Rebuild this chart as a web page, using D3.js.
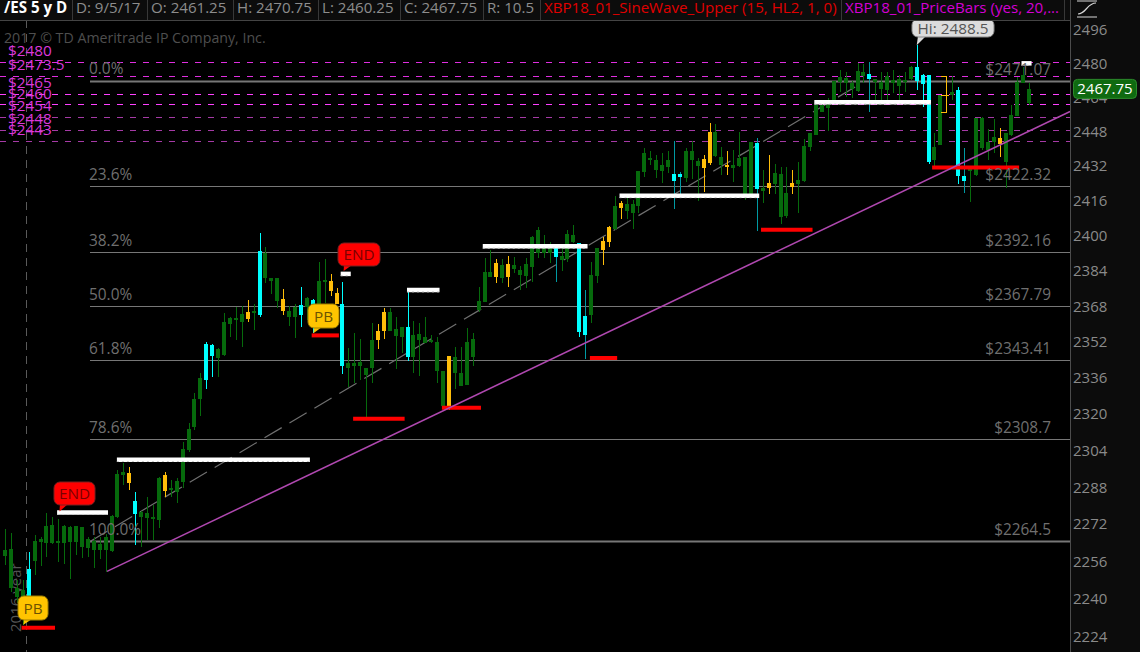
<!DOCTYPE html>
<html><head><meta charset="utf-8">
<script src="https://cdn.jsdelivr.net/npm/d3@7/dist/d3.min.js"></script>
<style>
html,body{margin:0;padding:0;background:#000;overflow:hidden}
svg{display:block;font-family:"Open Sans",sans-serif}
</style></head><body><svg id="c" width="1140" height="652"></svg>
<script>
const closes=[2261,2261.5,2244.7,2243.9,2252.9,2264.9,2265.8,2271.3,2271.8,2264.9,
2271.3,2270.9,2271.3,2270.9,2265.8,2264.9,2263.6,2266.6,2275.6,2293.9,
2294.8,2294.3,2282.1,2277.4,2276.9,2275.2,2292.1,2293.5,2287.8,2290.8,
2304.8,2313.6,2326.7,2336.1,2351.3,2350.9,2349.1,2361.2,2363,2363,
2364.7,2365.6,2366.1,2393.3,2392.4,2381,2381,2371.5,2366.1,2367.9,
2368.8,2371.9,2371,2379.6,2380.1,2379.6,2374.2,2369.2,2342.8,2342.8,
2343.3,2340.6,2353.1,2357.1,2365.6,2365.6,2358,2358.9,2358.9,2355.4,
2355.8,2354.5,2353.1,2352.2,2339.3,2346,2345.5,2338.4,2352.2,2353.6,
2370.5,2383.7,2383.7,2387.8,2386.9,2387.4,2386.9,2384.6,2387.4,2399.6,
2402.8,2394.6,2394.6,2395.1,2391,2401,2400.5,2396.9,2363.9,2382.4,
2394.6,2397.8,2404.2,2413.7,2415,2414.6,2414.6,2429.9,2438.2,2435.9,
2435,2432.6,2435,2428.5,2428.5,2439.1,2439.1,2434.5,2435.4,2448,
2448,2436.4,2432.6,2432.6,2435.9,2436.4,2443.3,2442.9,2422,2424.3,
2428.9,2428.5,2419.6,2424.3,2425.7,2441.5,2447.5,2460.5,2460.5,2460.5,
2471.7,2473.6,2473.1,2470.8,2476.4,2476,2475,2472.7,2471.3,2474.1,
2472.2,2472.7,2472.2,2478.3,2478.3,2474.5,2474.5,2441,2465.1,2465.1,
2466.6,2467.5,2427.5,2431.2,2454.5,2454.5,2443.3,2445.6,2445.2,2447.5,
2455.9,2471.3,2474.5,2467.75];
const opens=[2258.5,2244.5,2240.9,2231.9,2239.6,2256.3,2264.5,2264,2264,2264,
2264,2264.5,2264.5,2262.3,2261.9,2261,2261,2261,2260.6,2275.2,
2293.5,2290,2276.5,2275.2,2274.8,2274.3,2273.9,2286.4,2286.9,2286,
2290.4,2304.4,2314.5,2326.7,2335.2,2346,2345.1,2346.4,2360.3,2362.1,
2361.2,2362.5,2365.2,2364.3,2381,2379.6,2370.5,2366.1,2363.4,2363.4,
2364.3,2367.9,2368.8,2367.9,2379.2,2375.1,2369.2,2341.2,2340.6,2341.5,
2341.2,2337.5,2340.6,2353.1,2357.1,2357.1,2354.9,2354.5,2345.5,2345.5,
2353.1,2351.8,2352.2,2339.3,2323.7,2323.7,2338.4,2332.6,2333,2345.5,
2366.5,2370.1,2381.5,2381.5,2381,2381.5,2385.1,2382.4,2381.9,2386,
2392.4,2392.4,2392.4,2390.5,2389.2,2389.6,2397.3,2356.7,2355.4,2364.3,
2381.9,2393.7,2397.3,2403.2,2412.8,2411.4,2410.5,2413.7,2429.4,2435.4,
2430.3,2429.9,2431.7,2425.2,2427.1,2426.6,2435,2432.2,2431.2,2433.6,
2436.8,2432.6,2432.2,2431.2,2432.2,2418.7,2418.7,2421.5,2420.6,2422,
2423.8,2408.7,2409.1,2422.4,2423.8,2425.2,2441,2446.6,2457.2,2459.1,
2461.9,2471.3,2470.8,2468,2467,2474.1,2472.7,2471.3,2468,2467.5,
2470.8,2469.4,2471.3,2472.7,2471.7,2470.3,2434,2435,2442,2464.7,
2465.1,2427.5,2425.2,2429.9,2428,2440.5,2439.6,2443.3,2442.4,2434,
2446.6,2455.4,2470.8,2461.25];
const highs=[2270,2268,2248.2,2248.2,2259.8,2267.5,2266.6,2276.9,2275.2,2274.3,
2271.8,2271.3,2271.3,2270.9,2266.6,2266.6,2266.6,2267.9,2276,2295.6,
2298.7,2297,2286,2277.8,2283.8,2280.4,2292.6,2294.8,2291.3,2292.1,
2307.9,2316.2,2329.4,2338.4,2352.2,2351.3,2349.5,2365.2,2363.4,2367.9,
2368.3,2371,2369.2,2401.4,2395.1,2381,2381,2376,2368.3,2369.2,
2376.9,2372.3,2371.5,2388.3,2389.6,2382.8,2376.4,2379.2,2349.5,2356.2,
2353.6,2340.6,2360.7,2360.3,2367.4,2367.4,2363.4,2358.9,2374.6,2361.6,
2360.7,2363.4,2355.4,2354.5,2339.3,2346,2350,2350,2358.5,2356.2,
2376.9,2390,2393.7,2389.6,2389.6,2391,2390.5,2386.5,2390,2400.1,
2404.2,2400.5,2397.3,2395.1,2394.6,2402.8,2405,2396.9,2375.6,2388.3,
2394.6,2399.6,2404.6,2418.3,2416,2418.7,2416.4,2429.9,2440.5,2439.1,
2437.3,2438.2,2439.1,2443.8,2429.4,2440.5,2443.8,2435.9,2437.3,2452.1,
2451.7,2441,2439.1,2439.6,2448,2436.4,2443.3,2445.2,2430.3,2437.3,
2433.1,2431.7,2431.7,2430.3,2434,2444.7,2447.5,2460.5,2462.8,2463.7,
2471.7,2476.9,2476,2471.7,2480.2,2479.7,2480.6,2472.7,2476,2476,
2476.9,2474.5,2476,2478.8,2488.5,2475,2474.5,2447.5,2465.1,2473.6,
2474.1,2468.9,2440.5,2431.7,2454.5,2454.9,2449.3,2454,2449.8,2447.5,
2460.5,2473.6,2478.3,2470.75];
const lows=[2254.5,2243,2238.3,2228.9,2238.7,2250.3,2253.8,2258,2263.6,2255.9,
2255,2248.6,2258.9,2257.6,2258,2253.3,2256.8,2251.6,2260.2,2274.8,
2289.1,2286.9,2263.2,2262.3,2265.3,2265.3,2270.5,2283.8,2283.8,2281.2,
2287.8,2303.5,2313.2,2319.3,2331.2,2336.6,2336.6,2346,2354.5,2353.1,
2350,2361.2,2357.6,2363.4,2378.7,2373.8,2367.4,2364.3,2359.4,2353.9,
2358.9,2362.1,2356.2,2366.5,2369.7,2372.8,2369.2,2338,2332.1,2333.9,
2335.2,2318.9,2333.9,2349.1,2353.6,2357.1,2340.2,2347.3,2343.7,2338.4,
2337.1,2351.8,2351.8,2333.9,2322.8,2321.9,2331.2,2332.6,2333,2341.2,
2365.6,2370.1,2381.5,2378.7,2378.7,2376.9,2383.3,2375.6,2376.4,2379.2,
2390.1,2390.1,2387.8,2379.2,2384.2,2388.3,2396.9,2354.5,2344.6,2360.7,
2378.7,2386.9,2395.1,2402.8,2407.8,2407.8,2403.2,2410.5,2427.1,2432.6,
2426.6,2424.3,2428.9,2412.3,2418.7,2424.8,2426.1,2415.9,2420.1,2432.6,
2436.4,2428,2428,2424.8,2431.7,2416.4,2418.3,2402.3,2415,2419.2,
2419.2,2405.5,2408.2,2419.2,2410.5,2424.8,2439.1,2446.6,2457.2,2448.4,
2461.4,2466.6,2464.2,2463.7,2466.6,2470.8,2457.2,2461.4,2462.8,2461.9,
2466.1,2461.9,2466.6,2472.2,2467.5,2459.6,2433.1,2431.7,2442,2456.8,
2462.8,2423.8,2419.6,2415.5,2427.5,2439.6,2435,2438.2,2436.4,2421.9,
2446.2,2455.4,2470.8,2460.25];
const cyanBars=[4,22,34,35,43,50,52,57,68,93,97,98,113,114,127,146,154,155,156,161,162];
const tealWicks=[93,98,113,114,127,146,162];
const orangeBars=[21,27,41,47,55,56,63,64,75,83,85,101,102,104,118,119,122,129,133,159,168];
const priceTicks=[2496,2480,2464,2448,2432,2416,2400,2384,2368,2352,2336,2320,2304,2288,2272,2256,2240,2224];
const fibPct=["0.0%","23.6%","38.2%","50.0%","61.8%","78.6%","100.0%"];
const fibPrice=[2471.07,2422.32,2392.16,2367.79,2343.41,2308.7,2264.5];
const fibPriceText=["$2471.07","$2422.32","$2392.16","$2367.79","$2343.41","$2308.7","$2264.5"];
const pivotLevels=[2480,2473.5,2465,2460,2454,2448,2443];
const pivotText=["$2480","$2473.5","$2465","$2460","$2454","$2448","$2443"];
const whiteFrom=[8.8,18.9,56.7,67.9,80.7,103.8,136.7,171.7];
const whiteTo=[17.4,51.5,58.4,73.4,98.4,127.4,156.4,173.4];
const whiteLevel=[2277,2300,2382.7,2375.4,2395.2,2418.3,2461.7,2480];
const redFrom=[2.8,51.8,58.8,73.8,98.8,127.7,156.6];
const redTo=[8.45,56.4,67.5,80.4,103.4,136.4,171.3];
const redLevel=[2227.7,2355,2318,2322.8,2344.9,2402.8,2431.4];
const fibLine=[[14.36,2264.5],[144.9,2471.07]];
const trendLine=[[17.23,2251.7],[179.9,2457.4]];
const headerCells=[["/ES 5 y D",4,"#fff",700,72],["D: 9/5/17",76,"#8d8d8d",400,147],["O: 2461.25",151,"#8d8d8d",400,233],["H: 2470.75",237,"#8d8d8d",400,318],["L: 2460.25",322,"#8d8d8d",400,400],["C: 2467.75",404,"#8d8d8d",400,483],["R: 10.5",487,"#8d8d8d",400,540],["XBP18_01_SineWave_Upper (15, HL2, 1, 0)",544,"#e00000",400,841],["XBP18_01_PriceBars (yes, 20,...",845,"#d400d4",400,1064]];

const svg=d3.select("#c");
const x=d3.scaleLinear().domain([0,173]).range([5,1029.2]);
const y=d3.scaleLog().domain([2496,2224]).range([29.5,636.5]);
const idx=d3.range(closes.length);
const GREEN="#066a0c",CYAN="#00ffff",ORANGE="#ffbe0a";
const bodyColor=i=>cyanBars.includes(i)?CYAN:orangeBars.includes(i)?ORANGE:GREEN;
const wickColor=i=>tealWicks.includes(i)?"#009aa3":bodyColor(i);

svg.append("rect").attr("width",1140).attr("height",652).attr("fill","#000");

// year divider
svg.append("line").attr("x1",26.5).attr("x2",26.5).attr("y1",20).attr("y2",652).attr("stroke","#5a5a5a").attr("stroke-dasharray","8,6");
svg.append("text").attr("transform","translate(21,632) rotate(-90)").attr("fill","#555").attr("font-size",15).text("2016 year");
svg.append("text").attr("x",4).attr("y",43).attr("fill","#4e4e4e").attr("font-size",14.2).text("2017 © TD Ameritrade IP Company, Inc.");

// pivot dashed levels
svg.append("g").selectAll("line").data(pivotLevels).join("line")
 .attr("x1",0).attr("x2",1070).attr("y1",d=>Math.floor(y(d))-.5).attr("y2",d=>Math.floor(y(d))-.5)
 .attr("stroke",(d,i)=>i<4?(i>=2?"#ff40ff":"#e02ee0"):"#a63aa6").attr("stroke-dasharray","6,7");

// fib lines
svg.append("g").selectAll("line").data(fibPrice).join("line")
 .attr("x1",90).attr("x2",1070).attr("y1",d=>Math.floor(y(d)-.5)+.5).attr("y2",d=>Math.floor(y(d)-.5)+.5)
 .attr("stroke","#777").attr("stroke-width",(d,i)=>i==0||i==6?2:1);
svg.append("path").datum(fibLine).attr("fill","none").attr("stroke","#707070").attr("stroke-width",1.2).attr("stroke-dasharray","20,9")
 .attr("d",d3.line().x(d=>x(d[0])).y(d=>y(d[1])));

// candles
const wicks=svg.append("g").attr("shape-rendering","crispEdges");
wicks.selectAll("rect").data(idx).join("rect")
 .attr("x",i=>Math.round(x(i))).attr("width",1)
 .attr("y",i=>y(highs[i])).attr("height",i=>Math.max(1,y(lows[i])-y(highs[i])))
 .attr("fill",wickColor);
const bodies=svg.append("g").attr("shape-rendering","crispEdges");
bodies.selectAll("rect").data(idx).join("rect")
 .attr("x",i=>Math.round(x(i))-2).attr("width",i=>i===159?0:4)
 .attr("y",i=>y(closes[i])).attr("height",i=>Math.max(2,y(opens[i])-y(closes[i])))
 .attr("fill",bodyColor);
// open-high-low bracket of the thin orange bar
const b=159;
svg.append("path").attr("fill","none").attr("stroke",ORANGE).attr("shape-rendering","crispEdges")
 .attr("d",`M${x(b)-5},${y(highs[b])}H${x(b)}V${y(lows[b])}H${x(b)-5}M${x(b)-5},${y(closes[b])}H${x(b)+3}`);

// white + red level bars
const white=svg.append("g");
white.selectAll("line.w").data(whiteLevel).join("line").attr("class","w")
 .attr("x1",(d,i)=>x(whiteFrom[i])).attr("x2",(d,i)=>x(whiteTo[i])).attr("y1",d=>y(d)).attr("y2",d=>y(d))
 .attr("stroke","#fff").attr("stroke-width",4.5);
white.selectAll("line.d").data(whiteLevel).join("line").attr("class","d")
 .attr("x1",(d,i)=>x(whiteFrom[i])).attr("x2",(d,i)=>x(whiteTo[i])).attr("y1",d=>y(d)+1.8).attr("y2",d=>y(d)+1.8)
 .attr("stroke","#ccc").attr("stroke-width",1).attr("stroke-dasharray","2,3");
svg.append("g").selectAll("line").data(redLevel).join("line")
 .attr("x1",(d,i)=>x(redFrom[i])).attr("x2",(d,i)=>x(redTo[i])).attr("y1",d=>y(d)).attr("y2",d=>y(d))
 .attr("stroke","#f00").attr("stroke-width",4);

// trend line
svg.append("path").datum(trendLine).attr("fill","none").attr("stroke","#b048b0").attr("stroke-width",1.5)
 .attr("d",d3.line().x(d=>x(d[0])).y(d=>y(d[1])));

// fib labels
const fibG=svg.append("g").attr("font-size",15.4).attr("fill","#6f6f6f");
fibG.selectAll("text.p").data(fibPct).join("text").attr("class","p").attr("x",89)
 .attr("y",(d,i)=>y(fibPrice[i])-(i==0?8:7)).text(d=>d);
fibG.selectAll("text.v").data(fibPriceText).join("text").attr("class","v").attr("x",1051).attr("text-anchor","end")
 .attr("y",(d,i)=>y(fibPrice[i])-7).text(d=>d);

// pivot labels
const pivotY=[56,70,88,99,111,124,135];
svg.append("g").attr("font-size",15.3).attr("fill","#dc38dc").selectAll("text").data(pivotText).join("text")
 .attr("x",8).attr("y",(d,i)=>pivotY[i]).text(d=>d);

// callouts
function callout(bx,by,w,h,tipI,tipP,fill,stroke,txtFill,txt){
  const px=x(tipI),py=y(tipP);
  const g=svg.append("g");
  g.append("path").attr("fill",fill).attr("d",`M${bx+6},${by+h-1}L${px},${py}L${bx+14},${by+h-1}Z`);
  g.append("rect").attr("x",bx).attr("y",by).attr("width",w).attr("height",h).attr("rx",6).attr("fill",fill).attr("stroke",stroke);
  g.append("text").attr("x",bx+w/2).attr("y",by+h/2+5.5).attr("text-anchor","middle").attr("font-size",15.3).attr("fill",txtFill).text(txt);
}
callout(54,482,41,23,9.2,2277.5,"#f00","#7a2020","#7a0000","END");
callout(338,243,42,23,57.2,2384,"#f00","#7a2020","#7a0000","END");
callout(18,596,30,24,3.1,2229,"#ffc400","#a08000","#6b5200","PB");
callout(308,304,31,24,52.1,2356,"#ffc400","#a08000","#6b5200","PB");
callout(912,19,82,18,154,2488.5,"#dcdcdc","#888","#555","Hi: 2488.5");

// header + axis panels
svg.append("rect").attr("x",1070).attr("y",0).attr("width",70).attr("height",652).attr("fill","#0c0c0c");
svg.append("rect").attr("x",0).attr("y",0).attr("width",1070).attr("height",20).attr("fill","#0c0c0c");
svg.append("rect").attr("x",0).attr("y",20).attr("width",1070).attr("height",1).attr("fill","#444");
svg.append("rect").attr("x",1070).attr("y",0).attr("width",1).attr("height",652).attr("fill","#4c4c4c");
const hg=svg.append("g").attr("font-size",15.1);
headerCells.forEach(c=>{
  hg.append("text").attr("x",c[1]).attr("y",13).attr("fill",c[2]).attr("font-weight",c[3]).text(c[0]);
  hg.append("rect").attr("x",c[4]).attr("y",0).attr("width",1).attr("height",20).attr("fill","#383838");
});
// S-curve icon
svg.append("path").attr("fill","none").attr("stroke","#d8d8d8").attr("stroke-width",1.2)
 .attr("d","M1077,1H1097M1077,17H1097M1078,14C1086,14 1087,3 1096,3");

// price axis
const axis=d3.axisRight(y).tickValues(priceTicks).tickSize(0).tickPadding(2).tickFormat(d3.format("d"));
const ag=svg.append("g").attr("transform","translate(1071,0)").call(axis);
ag.select(".domain").remove();
ag.selectAll("text").attr("fill","#8a8a8a").attr("font-size",15).attr("font-family",'"Open Sans",sans-serif');

// last-price flag
const lastY=y(closes[173]);
svg.append("rect").attr("x",1073.5).attr("y",lastY-10).attr("width",63).attr("height",19).attr("rx",4).attr("fill","#0f6a10").attr("stroke","#2c8a2c");
svg.append("text").attr("x",1105).attr("y",lastY+5).attr("text-anchor","middle").attr("fill","#fff").attr("font-size",15).text("2467.75");
</script></body></html>
